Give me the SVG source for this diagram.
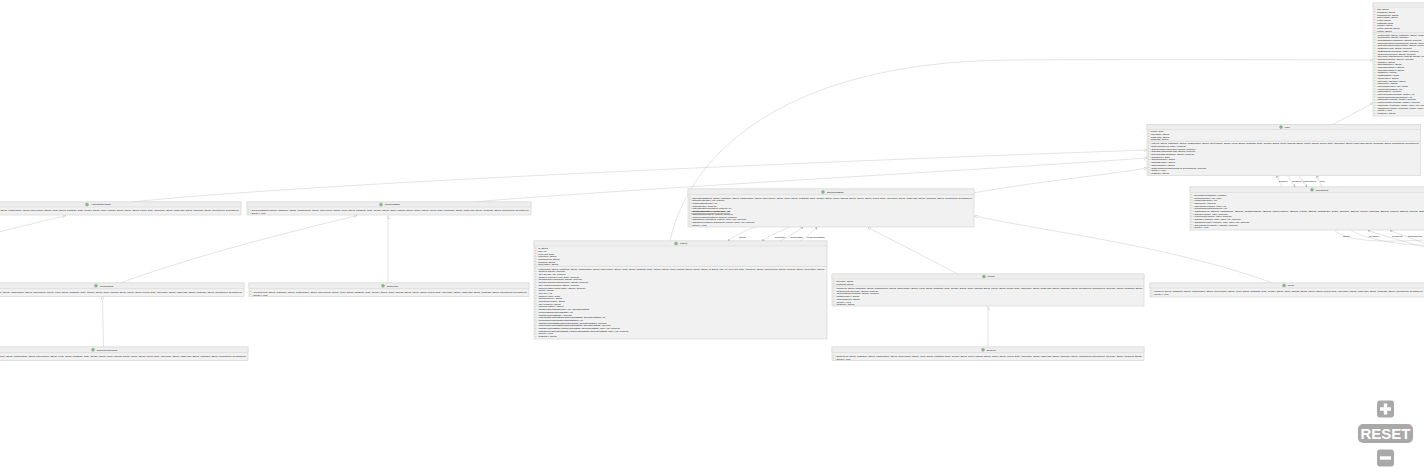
<svg xmlns="http://www.w3.org/2000/svg" width="1424" height="474" viewBox="0 0 1424 474">
<style>
.b{fill:#f1f1f1;stroke:#d0d0d0;stroke-width:.6}
.h{fill:#eeeeee;stroke:#d0d0d0;stroke-width:.45}
.s{stroke:#d8d8d8;stroke-width:.8;fill:none}
.t{font-family:"Liberation Sans",Arial,sans-serif;font-size:2.4px;fill:#111}
.n{font-family:"Liberation Sans",Arial,sans-serif;font-size:2.4px;fill:#111}
.k{font-family:"Liberation Sans",Arial,sans-serif;font-size:1.9px;fill:#111}
.u{font-weight:bold;text-decoration:underline;fill:#000}
.c{fill:#8fb58f;stroke:#6f9a6f;stroke-width:.35}
.a{stroke:#dcaaaa;stroke-width:1;stroke-dasharray:1 1.72;fill:none}
.m{stroke:#a6d0a6;stroke-width:1;stroke-dasharray:1 1.72;fill:none}
.e{fill:none;stroke:#c2c2c2;stroke-width:.45}
.g{marker-end:url(#tri)}
.o{marker-end:url(#arr)}
.z{fill:#a9a9a9}
</style>
<defs>
<marker id="tri" viewBox="0 0 10 10" refX="10" refY="5" markerWidth="3" markerHeight="3" markerUnits="userSpaceOnUse" orient="auto"><path d="M0 0L10 5L0 10Z" fill="#fff" stroke="#b4b4b4" stroke-width="1.4"/></marker>
<marker id="arr" viewBox="0 0 10 10" refX="10" refY="5" markerWidth="2.4" markerHeight="2.4" markerUnits="userSpaceOnUse" orient="auto"><path d="M0 0L10 5L0 10" fill="none" stroke="#666" stroke-width="1.6"/></marker>
</defs>

<g id="connectors">
<path class="e g" d="M670,241C686,165 770,62 1010,60C1200,59 1300,60 1373,60"/>
<path class="e g" d="M1333,124.500L1373,103"/>
<path class="e g" d="M132,202C300,184 800,162 1147,150"/>
<path class="e g" d="M473,202C640,188 950,172 1147,158"/>
<path class="e g" d="M973,193C1040,181 1100,176 1147,168"/>
<path class="e g" d="M-30,239L66,215.500"/>
<path class="e g" d="M120,283C200,254 290,232 357,215.500"/>
<path class="e g" d="M388,283L388,215.500"/>
<path class="e g" d="M103.500,347L102.500,296.500"/>
<path class="e g" d="M958,274L868,227.500"/>
<path class="e g" d="M988,347L988,306.500"/>
<path class="e g" d="M1273,283C1170,246 1060,234 974.500,216"/>
<path class="e o" d="M755,227C745,231 735,235 728,241"/>
<path class="e o" d="M790,227C780,231 770,235 762,241"/>
<path class="e o" d="M780,241C788,237 796,232 803,227"/>
<path class="e o" d="M800,241C807,237 813,232 817,227"/>
<path class="e o" d="M1282,187C1280,183 1278,179 1277,175.500"/>
<path class="e o" d="M1288,175.500C1290,180 1292,183 1295,187"/>
<path class="e o" d="M1299,175.500C1301,180 1304,183 1307,187"/>
<path class="e o" d="M1322,187C1320,183 1318,179 1317,175.500"/>
<path class="e" d="M1334,230C1345,240 1372,243 1424,240"/>
<path class="e" d="M1351,230C1362,238 1395,245 1424,245"/>
<path class="e o" d="M1424,247C1405,242 1385,236 1368,230.500"/>
<path class="e o" d="M1424,243C1412,239 1400,234 1390,230.500"/>
<text class="k" x="739" y="237.800">patients</text>
<text class="k" x="775" y="237.800">getPatients()</text>
<text class="k" x="790" y="237.800">operationStaffs</text>
<text class="k" x="807" y="237.800">getOperationsStaffs()</text>
<text class="k" x="1279" y="181.800">getUsers()</text>
<text class="k" x="1292" y="181.800">department</text>
<text class="k" x="1303" y="181.800">getDepartment()</text>
<text class="k" x="1320" y="181.800">users</text>
<text class="k" x="1343" y="236.800">hospital</text>
<text class="k" x="1369" y="236.800">getHospital()</text>
<text class="k" x="1392" y="236.800">departments</text>
<text class="k" x="1408" y="236.800">getDepartments()</text>
</g>

<g id="Person">
<rect class="b" x="1373" y="3" width="140" height="113"/>
<rect class="h" x="1373" y="3" width="140" height="4"/>
<path class="s" d="M1373 32.800H1513"/>
<path class="a" d="M1374.800 8.500V32"/>
<path class="m" d="M1374.800 34V115"/>
<text class="t" x="1376.500" y="10.200">-title: String</text>
<text class="t" x="1376.500" y="12.900">-firstName: String</text>
<text class="t" x="1376.500" y="15.600">-middleName: String</text>
<text class="t" x="1376.500" y="18.300">-familyName: String</text>
<text class="t" x="1376.500" y="21">-email: String</text>
<text class="t" x="1376.500" y="23.700">-birthDate: Date</text>
<text class="t" x="1376.500" y="26.400">-gender: String</text>
<text class="t" x="1376.500" y="29.100">-homeAddress: String</text>
<text class="t" x="1376.500" y="31.800">-phone: String</text>
<text class="t" x="1376.500" y="35.600">+Person(title: String, firstName: String, middleName: String, familyName: String)</text>
<text class="t" x="1376.500" y="38.300">+setTitle(title: String): boolean</text>
<text class="t" x="1376.500" y="41">+setFirstName(firstName: String): boolean</text>
<text class="t" x="1376.500" y="43.700">+setMiddleName(middleName: String): boolean</text>
<text class="t" x="1376.500" y="46.400">+setFamilyName(familyName: String): boolean</text>
<text class="t" x="1376.500" y="49.100">+setEmail(email: String): boolean</text>
<text class="t" x="1376.500" y="51.800">+setBirthDate(birthDate: Date): boolean</text>
<text class="t" x="1376.500" y="54.500">+setGender(gender: String): boolean</text>
<text class="t" x="1376.500" y="57.200">+setHomeAddress(homeAddress: String): boolean</text>
<text class="t" x="1376.500" y="59.900">+setPhone(phone: String): boolean</text>
<text class="t" x="1376.500" y="62.600">+getTitle(): String</text>
<text class="t" x="1376.500" y="65.300">+getFirstName(): String</text>
<text class="t" x="1376.500" y="68">+getMiddleName(): String</text>
<text class="t" x="1376.500" y="70.700">+getFamilyName(): String</text>
<text class="t" x="1376.500" y="73.400">+getEmail(): String</text>
<text class="t" x="1376.500" y="76.100">+getBirthDate(): Date</text>
<text class="t" x="1376.500" y="78.800">+getGender(): String</text>
<text class="t" x="1376.500" y="81.500">+getHomeAddress(): String</text>
<text class="t" x="1376.500" y="84.200">+getPhone(): String</text>
<text class="t" x="1376.500" y="86.900">+getImages(index: int): Image</text>
<text class="t" x="1376.500" y="89.600">+numberOfImages(): int</text>
<text class="t" x="1376.500" y="92.300">+hasImages(): boolean</text>
<text class="t" x="1376.500" y="95">+indexOfImage(aImage: Image): int</text>
<text class="t" x="1376.500" y="97.700">+minimumNumberOfImages(): int</text>
<text class="t" x="1376.500" y="100.400">+addImage(aImage: Image): boolean</text>
<text class="t" x="1376.500" y="103.100">+removeImage(aImage: Image): boolean</text>
<text class="t" x="1376.500" y="105.800">+addImageAt(aImage: Image, index: int): boolean</text>
<text class="t" x="1376.500" y="108.500">+addOrMoveImageAt(aImage: Image, index: int): boolean</text>
<text class="t" x="1376.500" y="111.200">+delete(): void</text>
<text class="t" x="1376.500" y="113.900">+toString(): String</text>
</g>

<g id="User">
<rect class="b" x="1147" y="124.500" width="273.500" height="51"/>
<rect class="h" x="1147" y="124.500" width="273.500" height="5"/>
<path class="s" d="M1147 141.200H1420.500"/>
<circle class="c" cx="1281" cy="127" r="1.5"/>
<text class="n" x="1284.800" y="127.900">User</text>
<path class="a" d="M1148.800 130.500V141"/>
<path class="m" d="M1148.800 142.500V175"/>
<text class="t" x="1150" y="132.200">-joined: Date</text>
<text class="t" x="1150" y="134.900">-username: String</text>
<text class="t" x="1150" y="137.600">-passHash: String</text>
<text class="t" x="1150" y="140.300">-language: String</text>
<text class="t" x="1150" y="144.200" textLength="269" lengthAdjust="spacingAndGlyphs">+User(id: String, firstName: String, middleName: String, familyName: String, email: String, birthDate: Date, gender: String, homeAddress: String, phone: String, joined: Date, username: String, passHash: String, language: String, department: Department)</text>
<text class="t" x="1150" y="146.900">+setJoined(joined: Date): boolean</text>
<text class="t" x="1150" y="149.600">+setUsername(username: String): boolean</text>
<text class="t" x="1150" y="152.300">+setPassHash(passHash: String): boolean</text>
<text class="t" x="1150" y="155">+setLanguage(language: String): boolean</text>
<text class="t" x="1150" y="157.700">+getJoined(): Date</text>
<text class="t" x="1150" y="160.400">+getUsername(): String</text>
<text class="t" x="1150" y="163.100">+getPassHash(): String</text>
<text class="t" x="1150" y="165.800">+getLanguage(): String</text>
<text class="t" x="1150" y="168.500">+setDepartment(aDepartment: Department): boolean</text>
<text class="t" x="1150" y="171.200">+delete(): void</text>
<text class="t" x="1150" y="173.900">+toString(): String</text>
</g>

<g id="Department">
<rect class="b" x="1190" y="187" width="260" height="43"/>
<rect class="h" x="1190" y="187" width="260" height="5.500"/>
<circle class="c" cx="1312" cy="189.700" r="1.5"/>
<text class="n" x="1315.800" y="190.600">Department</text>
<path class="m" d="M1191.800 194V229"/>
<text class="t" x="1193" y="195.800">+Department(hospital: Hospital)</text>
<text class="t" x="1193" y="198.500">+getUsers(index: int): User</text>
<text class="t" x="1193" y="201.200">+numberOfUsers(): int</text>
<text class="t" x="1193" y="203.900">+hasUsers(): boolean</text>
<text class="t" x="1193" y="206.600">+indexOfUser(aUser: User): int</text>
<text class="t" x="1193" y="209.300">+minimumNumberOfUsers(): int</text>
<text class="t" x="1193" y="212" textLength="258" lengthAdjust="spacingAndGlyphs">+addUser(id: String, firstName: String, middleName: String, familyName: String, email: String, birthDate: Date, gender: String, homeAddress: String, phone: String, joined: Date, username: String)</text>
<text class="t" x="1193" y="214.700">+addUser(aUser: User): boolean</text>
<text class="t" x="1193" y="217.400">+removeUser(aUser: User): boolean</text>
<text class="t" x="1193" y="220.100">+addUserAt(aUser: User, index: int): boolean</text>
<text class="t" x="1193" y="222.800">+addOrMoveUserAt(aUser: User, index: int): boolean</text>
<text class="t" x="1193" y="225.500">+setHospital(aHospital: Hospital): boolean</text>
<text class="t" x="1193" y="228.200">+delete(): void</text>
</g>

<g id="OperationsStaff">
<rect class="b" x="688" y="189" width="286" height="38"/>
<rect class="h" x="688" y="189" width="286" height="5.500"/>
<circle class="c" cx="823" cy="192" r="1.5"/>
<text class="n" x="826.800" y="192.900">OperationsStaff</text>
<path class="m" d="M689.800 196.500V226"/>
<text class="t" x="691" y="198.500" textLength="281" lengthAdjust="spacingAndGlyphs">+OperationsStaff(id: String, firstName: String, middleName: String, familyName: String, email: String, birthDate: Date, gender: String, homeAddress: String, phone: String, joined: Date, username: String, passHash: String, language: String, department: Department)</text>
<text class="t" x="691" y="201.300">+getPatients(index: int): Patient</text>
<text class="t" x="691" y="204">+numberOfPatients(): int</text>
<text class="t" x="691" y="206.700">+hasPatients(): boolean</text>
<text class="t" x="691" y="209.400">+indexOfPatient(aPatient: Patient): int</text>
<text class="t u" x="691" y="212.100">+minimumNumberOfPatients(): int</text>
<text class="t" x="691" y="214.800">+addPatient(aPatient: Patient): boolean</text>
<text class="t" x="691" y="217.500">+removePatient(aPatient: Patient): boolean</text>
<text class="t" x="691" y="220.200">+addPatientAt(aPatient: Patient, index: int): boolean</text>
<text class="t" x="691" y="222.900">+addOrMovePatientAt(aPatient: Patient, index: int): boolean</text>
<text class="t" x="691" y="225.600">+delete(): void</text>
</g>

<g id="Patient">
<rect class="b" x="534" y="241" width="293" height="98"/>
<rect class="h" x="534" y="241" width="293" height="5"/>
<path class="s" d="M534 266.300H827"/>
<circle class="c" cx="676" cy="243.500" r="1.5"/>
<text class="n" x="679.800" y="244.400">Patient</text>
<path class="a" d="M535.800 247.500V265.500"/>
<path class="m" d="M535.800 268V338"/>
<text class="t" x="537.500" y="249.200">-id: String</text>
<text class="t" x="537.500" y="251.900">-age: int</text>
<text class="t" x="537.500" y="254.600">-nextAppt: Date</text>
<text class="t" x="537.500" y="257.300">-insurance: String</text>
<text class="t" x="537.500" y="260">-insuranceNo: String</text>
<text class="t" x="537.500" y="262.700">-allergies: String</text>
<text class="t" x="537.500" y="265.400">-medHistory: String</text>
<text class="t" x="537.500" y="269.600" textLength="287" lengthAdjust="spacingAndGlyphs">+Patient(title: String, firstName: String, middleName: String, familyName: String, email: String, birthDate: Date, gender: String, homeAddress: String, phone: String, id: String, age: int, nextAppt: Date, insurance: String, insuranceNo: String, allergies: String, medHistory: String)</text>
<text class="t" x="537.500" y="272.300">+setId(id: String): boolean</text>
<text class="t" x="537.500" y="275">+setAge(age: int): boolean</text>
<text class="t" x="537.500" y="277.700">+setNextAppt(nextAppt: Date): boolean</text>
<text class="t" x="537.500" y="280.400">+setInsurance(insurance: String): boolean</text>
<text class="t" x="537.500" y="283.100">+setInsuranceNo(insuranceNo: String): boolean</text>
<text class="t" x="537.500" y="285.800">+setAllergies(allergies: String): boolean</text>
<text class="t" x="537.500" y="288.500">+setMedHistory(medHistory: String): boolean</text>
<text class="t" x="537.500" y="291.200">+getId(): String</text>
<text class="t" x="537.500" y="293.900">+getAge(): int</text>
<text class="t" x="537.500" y="296.600">+getNextAppt(): Date</text>
<text class="t" x="537.500" y="299.300">+getInsurance(): String</text>
<text class="t" x="537.500" y="302">+getInsuranceNo(): String</text>
<text class="t" x="537.500" y="304.700">+getAllergies(): String</text>
<text class="t" x="537.500" y="307.400">+getMedHistory(): String</text>
<text class="t" x="537.500" y="310.100">+getOperationsStaffs(index: int): OperationsStaff</text>
<text class="t" x="537.500" y="312.800">+numberOfOperationsStaffs(): int</text>
<text class="t" x="537.500" y="315.500">+hasOperationsStaffs(): boolean</text>
<text class="t" x="537.500" y="318.200">+indexOfOperationsStaff(aOperationsStaff: OperationsStaff): int</text>
<text class="t" x="537.500" y="320.900">+minimumNumberOfOperationsStaffs(): int</text>
<text class="t" x="537.500" y="323.600">+addOperationsStaff(aOperationsStaff: OperationsStaff): boolean</text>
<text class="t" x="537.500" y="326.300">+removeOperationsStaff(aOperationsStaff: OperationsStaff): boolean</text>
<text class="t" x="537.500" y="329">+addOperationsStaffAt(aOperationsStaff: OperationsStaff, index: int): boolean</text>
<text class="t" x="537.500" y="331.700">+addOrMoveOperationsStaffAt(aOperationsStaff: OperationsStaff, index: int): boolean</text>
<text class="t" x="537.500" y="334.400">+delete(): void</text>
<text class="t" x="537.500" y="337.100">+toString(): String</text>
</g>

<g id="AdministrativeStaff">
<rect class="b" x="-47" y="202" width="288" height="13"/>
<rect class="h" x="-47" y="202" width="288" height="5"/>
<circle class="c" cx="87" cy="204.500" r="1.5"/>
<text class="n" x="90.800" y="205.400">AdministrativeStaff</text>
<text class="t" x="-44" y="211" textLength="283" lengthAdjust="spacingAndGlyphs">+AdministrativeStaff(id: String, firstName: String, middleName: String, familyName: String, email: String, birthDate: Date, gender: String, homeAddress: String, phone: String, joined: Date, username: String, passHash: String, language: String, department: Department)</text>
</g>

<g id="TechnicalStaff">
<rect class="b" x="247" y="202" width="284" height="13"/>
<rect class="h" x="247" y="202" width="284" height="5"/>
<circle class="c" cx="381" cy="204.500" r="1.5"/>
<text class="n" x="384.800" y="205.400">TechnicalStaff</text>
<path class="m" d="M248.800 209V215"/>
<text class="t" x="250" y="211" textLength="279" lengthAdjust="spacingAndGlyphs">+TechnicalStaff(id: String, firstName: String, middleName: String, familyName: String, email: String, birthDate: Date, gender: String, homeAddress: String, phone: String, joined: Date, username: String, passHash: String, language: String, department: Department)</text>
<text class="t" x="250" y="213.700">+delete(): void</text>
</g>

<g id="Technologist">
<rect class="b" x="-38" y="283" width="282" height="13.500"/>
<rect class="h" x="-38" y="283" width="282" height="5.500"/>
<circle class="c" cx="96" cy="285.800" r="1.5"/>
<text class="n" x="99.800" y="286.700">Technologist</text>
<text class="t" x="-35" y="293" textLength="277" lengthAdjust="spacingAndGlyphs">+Technologist(id: String, firstName: String, middleName: String, familyName: String, email: String, birthDate: Date, gender: String, homeAddress: String, phone: String, joined: Date, username: String, passHash: String, language: String, department: Department)</text>
</g>

<g id="Technician">
<rect class="b" x="249" y="283" width="280" height="13.500"/>
<rect class="h" x="249" y="283" width="280" height="5.500"/>
<circle class="c" cx="383" cy="285.800" r="1.5"/>
<text class="n" x="386.800" y="286.700">Technician</text>
<path class="m" d="M250.800 291V296"/>
<text class="t" x="252" y="293" textLength="275" lengthAdjust="spacingAndGlyphs">+Technician(id: String, firstName: String, middleName: String, familyName: String, email: String, birthDate: Date, gender: String, homeAddress: String, phone: String, joined: Date, username: String, passHash: String, language: String, department: Department)</text>
<text class="t" x="252" y="295.700">+delete(): void</text>
</g>

<g id="SeniorTechnologist">
<rect class="b" x="-42" y="347" width="290" height="13.500"/>
<rect class="h" x="-42" y="347" width="290" height="5.500"/>
<circle class="c" cx="93" cy="349.800" r="1.5"/>
<text class="n" x="96.800" y="350.700">SeniorTechnologist</text>
<text class="t" x="-39" y="357" textLength="285" lengthAdjust="spacingAndGlyphs">+SeniorTechnologist(id: String, firstName: String, middleName: String, familyName: String, email: String, birthDate: Date, gender: String, homeAddress: String, phone: String, joined: Date, username: String, passHash: String, language: String, department: Department)</text>
</g>

<g id="Doctor">
<rect class="b" x="832" y="274" width="312" height="32"/>
<rect class="h" x="832" y="274" width="312" height="5"/>
<path class="s" d="M832 286H1144"/>
<circle class="c" cx="984" cy="276.500" r="1.5"/>
<text class="n" x="987.800" y="277.400">Doctor</text>
<path class="a" d="M833.800 280.500V286"/>
<path class="m" d="M833.800 287.500V305.500"/>
<text class="t" x="835.500" y="282.200">-specialty: String</text>
<text class="t" x="835.500" y="284.900">-locations: String</text>
<text class="t" x="835.500" y="289" textLength="307" lengthAdjust="spacingAndGlyphs">+Doctor(id: String, firstName: String, middleName: String, familyName: String, email: String, birthDate: Date, gender: String, homeAddress: String, phone: String, joined: Date, username: String, passHash: String, language: String, department: Department, specialty: String, locations: String)</text>
<text class="t" x="835.500" y="291.700">+setSpecialty(specialty: String): boolean</text>
<text class="t" x="835.500" y="294.400">+setLocations(locations: String): boolean</text>
<text class="t" x="835.500" y="297.100">+getSpecialty(): String</text>
<text class="t" x="835.500" y="299.800">+getLocations(): String</text>
<text class="t" x="835.500" y="302.500">+delete(): void</text>
<text class="t" x="835.500" y="305.200">+toString(): String</text>
</g>

<g id="Surgeon">
<rect class="b" x="832" y="347" width="312" height="13.500"/>
<rect class="h" x="832" y="347" width="312" height="5.500"/>
<circle class="c" cx="983" cy="349.800" r="1.5"/>
<text class="n" x="986.800" y="350.700">Surgeon</text>
<path class="m" d="M833.800 355V360"/>
<text class="t" x="835" y="357" textLength="307" lengthAdjust="spacingAndGlyphs">+Surgeon(id: String, firstName: String, middleName: String, familyName: String, email: String, birthDate: Date, gender: String, homeAddress: String, phone: String, joined: Date, username: String, passHash: String, language: String, department: Department, specialty: String, locations: String)</text>
<text class="t" x="835" y="359.500">+delete(): void</text>
</g>

<g id="Nurse">
<rect class="b" x="1150" y="283" width="276" height="14"/>
<rect class="h" x="1150" y="283" width="276" height="5"/>
<circle class="c" cx="1284" cy="285.500" r="1.5"/>
<text class="n" x="1287.800" y="286.400">Nurse</text>
<path class="m" d="M1151.800 290V296.500"/>
<text class="t" x="1153" y="292" textLength="270" lengthAdjust="spacingAndGlyphs">+Nurse(id: String, firstName: String, middleName: String, familyName: String, email: String, birthDate: Date, gender: String, homeAddress: String, phone: String, joined: Date, username: String, passHash: String, language: String, department: Department)</text>
<text class="t" x="1153" y="294.700">+delete(): void</text>
</g>

<g id="zoom-controls">
<rect class="z" x="1377" y="400.500" width="17" height="17" rx="3"/>
<path d="M1385.500 403.500V414.500M1380 409H1391" stroke="#fff" stroke-width="3.400" fill="none"/>
<rect class="z" x="1358" y="424" width="55" height="19" rx="5"/>
<text x="1385.500" y="439" text-anchor="middle" font-family="Liberation Sans,Arial,sans-serif" font-size="15.500" font-weight="bold" fill="#fff" textLength="50" lengthAdjust="spacingAndGlyphs">RESET</text>
<rect class="z" x="1377" y="449.500" width="17" height="17" rx="3"/>
<path d="M1380 458H1391" stroke="#fff" stroke-width="3.400" fill="none"/>
</g>
</svg>
